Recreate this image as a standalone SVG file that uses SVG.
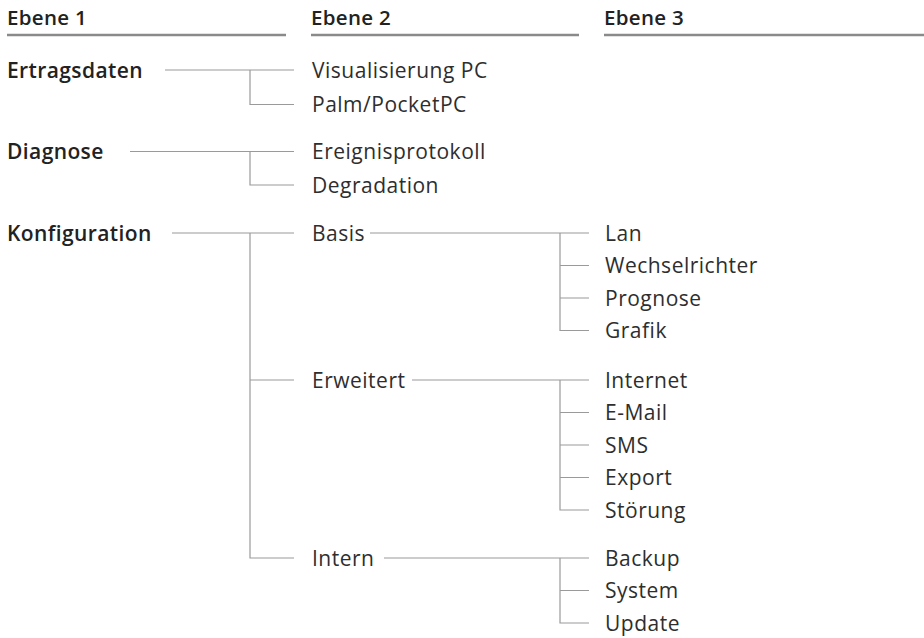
<svg xmlns="http://www.w3.org/2000/svg" width="924" height="638" viewBox="0 0 924 638">
<style>
.h{font-family:"Open Sans","Liberation Sans",sans-serif;font-size:20.5px;font-weight:600;fill:#222;letter-spacing:0.3px}
.t{font-family:"Open Sans","Liberation Sans",sans-serif;font-size:21px;font-weight:400;fill:#2e2e2e;letter-spacing:0.5px}
.b{font-family:"Open Sans","Liberation Sans",sans-serif;font-size:21px;font-weight:600;fill:#222;letter-spacing:0.4px}
.c{stroke:#9a9a9a;stroke-width:1.2;fill:none}
.u{stroke:#8a8a8a;stroke-width:2.5}
</style>
<rect width="924" height="638" fill="#fff"/>
<g id="headers">
<text class="h" x="7" y="25">Ebene 1</text>
<text class="h" x="311" y="25">Ebene 2</text>
<text class="h" x="604" y="25">Ebene 3</text>
<line class="u" x1="7" y1="35" x2="286" y2="35"/>
<line class="u" x1="311" y1="35" x2="579" y2="35"/>
<line class="u" x1="604" y1="35" x2="924" y2="35"/>
</g>
<g id="connectors">
<path class="c" d="M165 70H294M250 70V104.5H294"/>
<path class="c" d="M130 151.5H294M250 151.5V185H294"/>
<path class="c" d="M172 233H294M250 233V558H294M250 380H294"/>
<path class="c" d="M370 233H589M560 233V330.5H589M560 265.5H589M560 298H589"/>
<path class="c" d="M412 380H589M560 380V510H589M560 412.5H589M560 445H589M560 477.5H589"/>
<path class="c" d="M384 558H589M560 558V623H589M560 590.5H589"/>
</g>
<g id="n-ertragsdaten"><text class="b" x="7" y="78">Ertragsdaten</text></g>
<g id="n-diagnose"><text class="b" x="7" y="159">Diagnose</text></g>
<g id="n-konfiguration"><text class="b" x="7" y="240.5">Konfiguration</text></g>
<g id="n-visualisierung"><text class="t" x="312" y="77.5">Visualisierung PC</text></g>
<g id="n-palm"><text class="t" x="312" y="112">Palm/PocketPC</text></g>
<g id="n-ereignisprotokoll"><text class="t" x="312" y="159">Ereignisprotokoll</text></g>
<g id="n-degradation"><text class="t" x="312" y="192.5">Degradation</text></g>
<g id="n-basis"><text class="t" x="312" y="240.5">Basis</text></g>
<g id="n-erweitert"><text class="t" x="312" y="387.5">Erweitert</text></g>
<g id="n-intern"><text class="t" x="312" y="565.5">Intern</text></g>
<g id="n-lan"><text class="t" x="605" y="240.5">Lan</text></g>
<g id="n-wechselrichter"><text class="t" x="605" y="273">Wechselrichter</text></g>
<g id="n-prognose"><text class="t" x="605" y="305.5">Prognose</text></g>
<g id="n-grafik"><text class="t" x="605" y="338">Grafik</text></g>
<g id="n-internet"><text class="t" x="605" y="387.5">Internet</text></g>
<g id="n-email"><text class="t" x="605" y="420">E-Mail</text></g>
<g id="n-sms"><text class="t" x="605" y="452.5">SMS</text></g>
<g id="n-export"><text class="t" x="605" y="485">Export</text></g>
<g id="n-stoerung"><text class="t" x="605" y="517.5">Störung</text></g>
<g id="n-backup"><text class="t" x="605" y="565.5">Backup</text></g>
<g id="n-system"><text class="t" x="605" y="598">System</text></g>
<g id="n-update"><text class="t" x="605" y="630.5">Update</text></g>
</svg>
